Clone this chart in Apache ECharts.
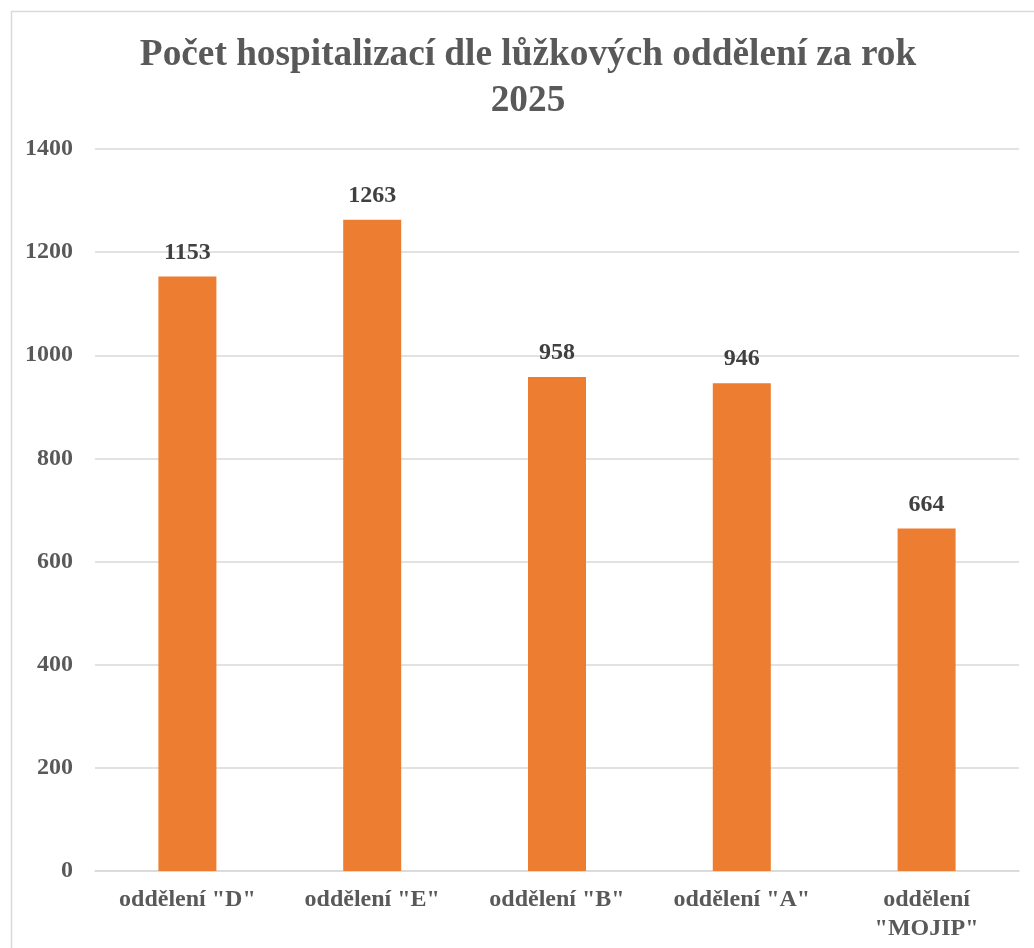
<!DOCTYPE html>
<html>
<head>
<meta charset="utf-8">
<script src="https://cdn.jsdelivr.net/npm/echarts@6/dist/echarts.min.js"></script>
<style>
  html, body { margin: 0; padding: 0; background: #fff; }
  #main { width: 1034px; height: 948px; }
</style>
</head>
<body>
<div id="main"></div>
<script>
var titleText = 'Počet hospitalizací dle lůžkových oddělení za rok\n2025';
var categories = ['oddělení "D"', 'oddělení "E"', 'oddělení "B"', 'oddělení "A"', 'oddělení\n"MOJIP"'];
var values = [1153, 1263, 958, 946, 664];
var yTicks = [0, 200, 400, 600, 800, 1000, 1200, 1400];

var serif = '"Liberation Serif", "Times New Roman", serif';
var myChart = echarts.init(document.getElementById('main'));

var options = {
    backgroundColor: '#ffffff',
    animation: false,
    graphic: [{
        type: 'rect',
        left: 9,
        top: 9,
        shape: { width: 1040, height: 960 },
        style: { fill: 'none', stroke: '#d9d9d9', lineWidth: 1.5 },
        silent: true
    }],
    title: {
        text: titleText,
        left: 523, // centre of title, a bit right of the chart centre like the original
        top: 27,
        textAlign: 'center',
        textStyle: {
            fontFamily: serif,
            fontWeight: 'bold',
            fontSize: 37.3,
            lineHeight: 46,
            color: '#595959'
        }
    },
    grid: {
        left: 95,
        right: 15,
        top: 149,
        bottom: 77,
        containLabel: false
    },
    xAxis: {
        type: 'category',
        data: categories,
        axisTick: { show: false },
        axisLine: { lineStyle: { color: '#d9d9d9', width: 1.5 } },
        axisLabel: {
            margin: 14,
            interval: 0,
            fontFamily: serif,
            fontWeight: 'bold',
            fontSize: 24,
            lineHeight: 29,
            color: '#595959'
        }
    },
    yAxis: {
        type: 'value',
        min: yTicks[0],
        max: yTicks[yTicks.length - 1],
        interval: 200,
        axisLine: { show: false },
        axisTick: { show: false },
        splitLine: { lineStyle: { color: '#d9d9d9', width: 1.5 } },
        axisLabel: {
            margin: 22,
            fontFamily: serif,
            fontWeight: 'bold',
            fontSize: 24,
            color: '#595959',
            formatter: function (v) { return String(v); }
        }
    },
    series: [{
        type: 'bar',
        data: values,
        barWidth: 58,
        itemStyle: { color: '#ED7D31' },
        label: {
            show: true,
            position: 'top',
            distance: 12,
            fontFamily: serif,
            fontWeight: 'bold',
            fontSize: 24,
            color: '#404040'
        }
    }]
};
myChart.setOption(options);
</script>
</body>
</html>
